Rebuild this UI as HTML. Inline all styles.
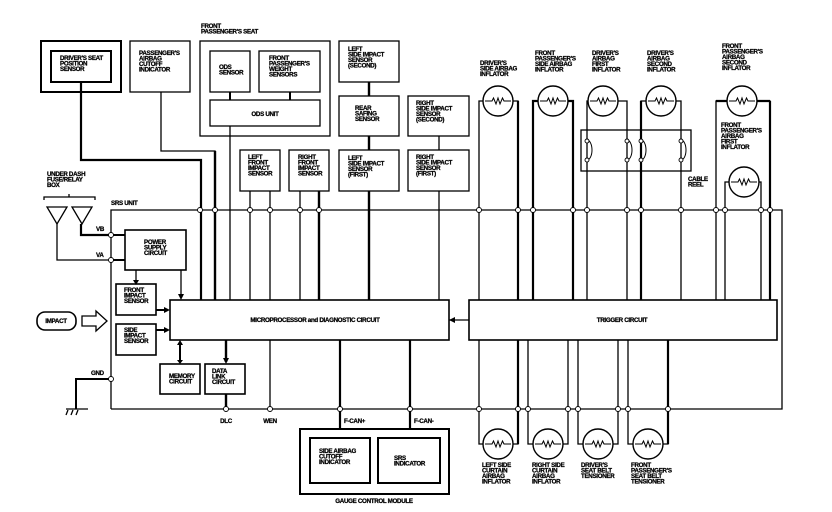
<!DOCTYPE html>
<html><head><meta charset="utf-8"><style>
html,body{margin:0;padding:0;background:#fff}
svg{display:block}
text{font-family:"Liberation Sans",sans-serif;font-weight:bold;font-size:6.2px;fill:#000;stroke:#000;stroke-width:0.25px;letter-spacing:-0.3px}
</style></head><body>
<svg width="832" height="512" viewBox="0 0 832 512" xmlns="http://www.w3.org/2000/svg">
<g fill="none" stroke="#000" stroke-width="1.3">
<polyline points="111,409 111,210 782,210 782,409 111,409"/>
<rect x="41" y="41" width="80" height="51" stroke-width="2"/>
<rect x="51" y="51" width="60" height="31" stroke-width="2"/>
<polyline points="81,82 81,160 201,160 201,300" stroke-width="2.2"/>
<rect x="130" y="41" width="60" height="51"/>
<polyline points="161,92 161,151 215,151 215,300"/>
<line x1="215" y1="151" x2="215" y2="300" stroke-width="2.4"/>
<rect x="200" y="41" width="130" height="95"/>
<rect x="210" y="51" width="40" height="41"/>
<rect x="259" y="51" width="61" height="41"/>
<rect x="210" y="100" width="110" height="26"/>
<line x1="230" y1="92" x2="230" y2="100" stroke-width="2"/>
<line x1="290" y1="92" x2="290" y2="100" stroke-width="2"/>
<line x1="230" y1="126" x2="230" y2="300"/>
<rect x="240" y="150" width="40" height="41"/>
<rect x="289" y="150" width="40" height="41"/>
<line x1="250" y1="191" x2="250" y2="300"/>
<line x1="270" y1="191" x2="270" y2="300"/>
<line x1="300" y1="191" x2="300" y2="300"/>
<line x1="319" y1="191" x2="319" y2="300" stroke-width="2.4"/>
<rect x="339" y="41" width="60" height="41"/>
<rect x="339" y="96" width="60" height="40"/>
<rect x="339" y="150" width="60" height="41"/>
<line x1="369" y1="82" x2="369" y2="96" stroke-width="2.4"/>
<line x1="369" y1="136" x2="369" y2="150" stroke-width="2.4"/>
<line x1="369" y1="191" x2="369" y2="300" stroke-width="2.4"/>
<rect x="408" y="96" width="61" height="40"/>
<rect x="408" y="150" width="61" height="41"/>
<line x1="439" y1="136" x2="439" y2="150"/>
<line x1="439" y1="191" x2="439" y2="300"/>
<rect x="581" y="130" width="110" height="41"/>
<polyline points="479,300 479,101 518,101 518,300"/>
<line x1="518" y1="101" x2="518" y2="300" stroke-width="2.2"/>
<polyline points="533,300 533,101 573,101 573,300" stroke-width="2.2"/>
<polyline points="587,300 587,101 627,101 627,300"/>
<polyline points="641,300 641,101 681,101 681,300"/>
<line x1="641" y1="101" x2="641" y2="300" stroke-width="2.2"/>
<polyline points="716,300 716,101 770,101 770,300"/>
<line x1="770" y1="101" x2="770" y2="300" stroke-width="2.2"/>
<line x1="716" y1="101" x2="770" y2="101" stroke-width="2.2"/>
<polyline points="725,300 725,182 761,182 761,300"/>
<rect x="170" y="300" width="279" height="40" stroke-width="1.6"/>
<rect x="469" y="300" width="308" height="40" stroke-width="1.6"/>
<polyline points="479,340 479,444 518,444 518,340"/>
<line x1="518" y1="340" x2="518" y2="444" stroke-width="2.2"/>
<polyline points="528,340 528,444 568,444 568,340"/>
<polyline points="578,340 578,444 618,444 618,340"/>
<polyline points="628,340 628,444 668,444 668,340"/>
<line x1="668" y1="340" x2="668" y2="444" stroke-width="2.2"/>
<rect x="125" y="230" width="61" height="40" stroke-width="1.6"/>
<rect x="116" y="284" width="40" height="31" stroke-width="1.6"/>
<rect x="116" y="324" width="40" height="31" stroke-width="1.6"/>
<rect x="160" y="364" width="40" height="30" stroke-width="1.6"/>
<rect x="205" y="364" width="40" height="30" stroke-width="1.6"/>
<line x1="136" y1="270" x2="136" y2="282"/>
<line x1="181" y1="270" x2="181" y2="298"/>
<line x1="156" y1="310" x2="168" y2="310" stroke-width="2"/>
<line x1="156" y1="330" x2="168" y2="330" stroke-width="2"/>
<line x1="180" y1="342" x2="180" y2="362" stroke-width="2"/>
<line x1="226" y1="340" x2="226" y2="362" stroke-width="2.4"/>
<line x1="226" y1="394" x2="226" y2="409" stroke-width="2.4"/>
<line x1="270" y1="340" x2="270" y2="409"/>
<line x1="340" y1="340" x2="340" y2="429" stroke-width="2.2"/>
<line x1="410" y1="340" x2="410" y2="429" stroke-width="2.2"/>
<line x1="111" y1="235" x2="125" y2="235" stroke-width="2"/>
<line x1="111" y1="260" x2="125" y2="260" stroke-width="2"/>
<line x1="449" y1="320" x2="469" y2="320"/>
<polygon points="47,207 67,207 57,224"/>
<polygon points="72,207 92,207 82,224"/>
<polyline points="44,200 44,197 95,197 95,200"/>
<line x1="69" y1="194" x2="69" y2="197"/>
<polyline points="57,224 57,260 111,260"/>
<polyline points="81,224 81,235 111,235" stroke-width="2.2"/>
<polyline points="111,379 76,379 76,409" stroke-width="2"/>
<line x1="66" y1="409" x2="88" y2="409"/>
<line x1="68" y1="410" x2="66" y2="415"/>
<line x1="73" y1="410" x2="71" y2="415"/>
<line x1="78" y1="410" x2="76" y2="415"/>
<rect x="37" y="312" width="39" height="18" rx="8" stroke-width="1.6"/>
<polygon points="82,316 96,316 96,311 107,321 96,331 96,326 82,326"/>
<rect x="300" y="429" width="149" height="65" stroke-width="2"/>
<rect x="310" y="438" width="60" height="45" stroke-width="2"/>
<rect x="378" y="438" width="62" height="45" stroke-width="2"/>
</g>
<g fill="#000">
<polygon points="133,280 139,280 136,285"/>
<polygon points="178,294 184,294 181,300"/>
<polygon points="164,307 170,310 164,313"/>
<polygon points="164,327 170,330 164,333"/>
<polygon points="177,345 183,345 180,340"/>
<polygon points="177,360 183,360 180,364"/>
<polygon points="223,358 229,358 226,364"/>
<polygon points="455,317 449,320 455,323"/>
</g>
<g fill="#fff" stroke="#000" stroke-width="1.4">
<circle cx="498" cy="101" r="15"/><circle cx="553" cy="101" r="15"/><circle cx="603" cy="101" r="15"/><circle cx="661" cy="101" r="15"/><circle cx="742" cy="101" r="15"/><circle cx="744" cy="182" r="15"/>
<circle cx="498" cy="444" r="15"/><circle cx="548" cy="444" r="15"/><circle cx="598" cy="444" r="15"/><circle cx="648" cy="444" r="15"/>
</g>
<g fill="none" stroke="#000" stroke-width="1">
<path d="M485,101 H492 L493.5,98 L496,104 L498,98 L500,104 L502.5,98 L504,101 H511"/>
<path d="M540,101 H547 L548.5,98 L551,104 L553,98 L555,104 L557.5,98 L559,101 H566"/>
<path d="M590,101 H597 L598.5,98 L601,104 L603,98 L605,104 L607.5,98 L609,101 H616"/>
<path d="M648,101 H655 L656.5,98 L659,104 L661,98 L663,104 L665.5,98 L667,101 H674"/>
<path d="M729,101 H736 L737.5,98 L740,104 L742,98 L744,104 L746.5,98 L748,101 H755"/>
<path d="M731,182 H738 L739.5,179 L742,185 L744,179 L746,185 L748.5,179 L750,182 H757"/>
<path d="M485,444 H492 L493.5,441 L496,447 L498,441 L500,447 L502.5,441 L504,444 H511"/>
<path d="M535,444 H542 L543.5,441 L546,447 L548,441 L550,447 L552.5,441 L554,444 H561"/>
<path d="M585,444 H592 L593.5,441 L596,447 L598,441 L600,447 L602.5,441 L604,444 H611"/>
<path d="M635,444 H642 L643.5,441 L646,447 L648,441 L650,447 L652.5,441 L654,444 H661"/>
<path d="M587,140 a4,8 0 0 1 0,20"/><path d="M627,140 a4,8 0 0 1 0,20"/>
<path d="M641,140 a4,8 0 0 1 0,20"/><path d="M681,140 a4,8 0 0 1 0,20"/>
</g>
<g fill="#fff" stroke="#000" stroke-width="0.9">
<circle cx="200" cy="210" r="2.5"/><circle cx="215" cy="210" r="2.5"/><circle cx="250" cy="210" r="2.5"/><circle cx="270" cy="210" r="2.5"/><circle cx="300" cy="210" r="2.5"/><circle cx="319" cy="210" r="2.5"/>
<circle cx="479" cy="210" r="2.5"/><circle cx="518" cy="210" r="2.5"/><circle cx="533" cy="210" r="2.5"/><circle cx="573" cy="210" r="2.5"/><circle cx="587" cy="210" r="2.5"/><circle cx="627" cy="210" r="2.5"/><circle cx="641" cy="210" r="2.5"/><circle cx="681" cy="210" r="2.5"/><circle cx="716" cy="210" r="2.5"/><circle cx="725" cy="210" r="2.5"/><circle cx="761" cy="210" r="2.5"/><circle cx="770" cy="210" r="2.5"/>
<circle cx="479" cy="409" r="2.5"/><circle cx="518" cy="409" r="2.5"/><circle cx="528" cy="409" r="2.5"/><circle cx="568" cy="409" r="2.5"/><circle cx="578" cy="409" r="2.5"/><circle cx="618" cy="409" r="2.5"/><circle cx="628" cy="409" r="2.5"/><circle cx="668" cy="409" r="2.5"/>
<circle cx="111" cy="235" r="2.5"/><circle cx="111" cy="260" r="2.5"/><circle cx="111" cy="379" r="2.5"/>
<circle cx="226" cy="409" r="2.5"/><circle cx="270" cy="409" r="2.5"/><circle cx="340" cy="409" r="2.5"/><circle cx="410" cy="409" r="2.5"/>
<circle cx="587" cy="141" r="2"/><circle cx="587" cy="160" r="2"/><circle cx="627" cy="141" r="2"/><circle cx="627" cy="160" r="2"/><circle cx="641" cy="141" r="2"/><circle cx="641" cy="160" r="2"/><circle cx="681" cy="141" r="2"/><circle cx="681" cy="160" r="2"/>
</g>
<text x="60" y="60">DRIVER'S SEAT<tspan x="60" dy="5.5">POSITION</tspan><tspan x="60" dy="5.5">SENSOR</tspan></text>
<text x="139" y="55">PASSENGER'S<tspan x="139" dy="5.5">AIRBAG</tspan><tspan x="139" dy="5.5">CUTOFF</tspan><tspan x="139" dy="5.5">INDICATOR</tspan></text>
<text x="201" y="28">FRONT<tspan x="201" dy="5.5">PASSENGER'S SEAT</tspan></text>
<text x="219" y="69">ODS<tspan x="219" dy="5.5">SENSOR</tspan></text>
<text x="269" y="60">FRONT<tspan x="269" dy="5.5">PASSENGER'S</tspan><tspan x="269" dy="5.5">WEIGHT</tspan><tspan x="269" dy="5.5">SENSORS</tspan></text>
<text x="265" y="116" text-anchor="middle">ODS UNIT</text>
<text x="348" y="51">LEFT<tspan x="348" dy="5.5">SIDE IMPACT</tspan><tspan x="348" dy="5.5">SENSOR</tspan><tspan x="348" dy="5.5">(SECOND)</tspan></text>
<text x="355" y="110">REAR<tspan x="355" dy="5.5">SAFING</tspan><tspan x="355" dy="5.5">SENSOR</tspan></text>
<text x="348" y="160">LEFT<tspan x="348" dy="5.5">SIDE IMPACT</tspan><tspan x="348" dy="5.5">SENSOR</tspan><tspan x="348" dy="5.5">(FIRST)</tspan></text>
<text x="416" y="105">RIGHT<tspan x="416" dy="5.5">SIDE IMPACT</tspan><tspan x="416" dy="5.5">SENSOR</tspan><tspan x="416" dy="5.5">(SECOND)</tspan></text>
<text x="416" y="159">RIGHT<tspan x="416" dy="5.5">SIDE IMPACT</tspan><tspan x="416" dy="5.5">SENSOR</tspan><tspan x="416" dy="5.5">(FIRST)</tspan></text>
<text x="248" y="159">LEFT<tspan x="248" dy="5.5">FRONT</tspan><tspan x="248" dy="5.5">IMPACT</tspan><tspan x="248" dy="5.5">SENSOR</tspan></text>
<text x="298" y="159">RIGHT<tspan x="298" dy="5.5">FRONT</tspan><tspan x="298" dy="5.5">IMPACT</tspan><tspan x="298" dy="5.5">SENSOR</tspan></text>
<text x="480" y="65">DRIVER'S<tspan x="480" dy="5.5">SIDE AIRBAG</tspan><tspan x="480" dy="5.5">INFLATOR</tspan></text>
<text x="535" y="55">FRONT<tspan x="535" dy="5.5">PASSENGER'S</tspan><tspan x="535" dy="5.5">SIDE AIRBAG</tspan><tspan x="535" dy="5.5">INFLATOR</tspan></text>
<text x="592" y="55">DRIVER'S<tspan x="592" dy="5.5">AIRBAG</tspan><tspan x="592" dy="5.5">FIRST</tspan><tspan x="592" dy="5.5">INFLATOR</tspan></text>
<text x="647" y="55">DRIVER'S<tspan x="647" dy="5.5">AIRBAG</tspan><tspan x="647" dy="5.5">SECOND</tspan><tspan x="647" dy="5.5">INFLATOR</tspan></text>
<text x="722" y="48">FRONT<tspan x="722" dy="5.5">PASSENGER'S</tspan><tspan x="722" dy="5.5">AIRBAG</tspan><tspan x="722" dy="5.5">SECOND</tspan><tspan x="722" dy="5.5">INFLATOR</tspan></text>
<text x="721" y="127">FRONT<tspan x="721" dy="5.5">PASSENGER'S</tspan><tspan x="721" dy="5.5">AIRBAG</tspan><tspan x="721" dy="5.5">FIRST</tspan><tspan x="721" dy="5.5">INFLATOR</tspan></text>
<text x="688" y="181">CABLE<tspan x="688" dy="5.5">REEL</tspan></text>
<text x="47" y="176">UNDER DASH<tspan x="47" dy="5.5">FUSE/RELAY</tspan><tspan x="47" dy="5.5">BOX</tspan></text>
<text x="111" y="205">SRS UNIT</text>
<text x="96" y="231">VB</text>
<text x="96" y="257">VA</text>
<text x="91" y="375">GND</text>
<text x="144" y="244">POWER<tspan x="144" dy="5.5">SUPPLY</tspan><tspan x="144" dy="5.5">CIRCUIT</tspan></text>
<text x="124" y="292">FRONT<tspan x="124" dy="5.5">IMPACT</tspan><tspan x="124" dy="5.5">SENSOR</tspan></text>
<text x="124" y="332">SIDE<tspan x="124" dy="5.5">IMPACT</tspan><tspan x="124" dy="5.5">SENSOR</tspan></text>
<text x="56" y="323" text-anchor="middle">IMPACT</text>
<text x="315" y="322" text-anchor="middle">MICROPROCESSOR and DIAGNOSTIC CIRCUIT</text>
<text x="622" y="322" text-anchor="middle">TRIGGER CIRCUIT</text>
<text x="169" y="378">MEMORY<tspan x="169" dy="5.5">CIRCUIT</tspan></text>
<text x="212" y="373">DATA<tspan x="212" dy="5.5">LINK</tspan><tspan x="212" dy="5.5">CIRCUIT</tspan></text>
<text x="226" y="423" text-anchor="middle">DLC</text>
<text x="270" y="423" text-anchor="middle">WEN</text>
<text x="344" y="423">F-CAN+</text>
<text x="414" y="423">F-CAN-</text>
<text x="319" y="453">SIDE AIRBAG<tspan x="319" dy="5.5">CUTOFF</tspan><tspan x="319" dy="5.5">INDICATOR</tspan></text>
<text x="394" y="460">SRS<tspan x="394" dy="5.5">INDICATOR</tspan></text>
<text x="374" y="503" text-anchor="middle">GAUGE CONTROL MODULE</text>
<text x="482" y="467">LEFT SIDE<tspan x="482" dy="5.5">CURTAIN</tspan><tspan x="482" dy="5.5">AIRBAG</tspan><tspan x="482" dy="5.5">INFLATOR</tspan></text>
<text x="532" y="467">RIGHT SIDE<tspan x="532" dy="5.5">CURTAIN</tspan><tspan x="532" dy="5.5">AIRBAG</tspan><tspan x="532" dy="5.5">INFLATOR</tspan></text>
<text x="581" y="467">DRIVER'S<tspan x="581" dy="5.5">SEAT BELT</tspan><tspan x="581" dy="5.5">TENSIONER</tspan></text>
<text x="631" y="467">FRONT<tspan x="631" dy="5.5">PASSENGER'S</tspan><tspan x="631" dy="5.5">SEAT BELT</tspan><tspan x="631" dy="5.5">TENSIONER</tspan></text>
</svg>
</body></html>
